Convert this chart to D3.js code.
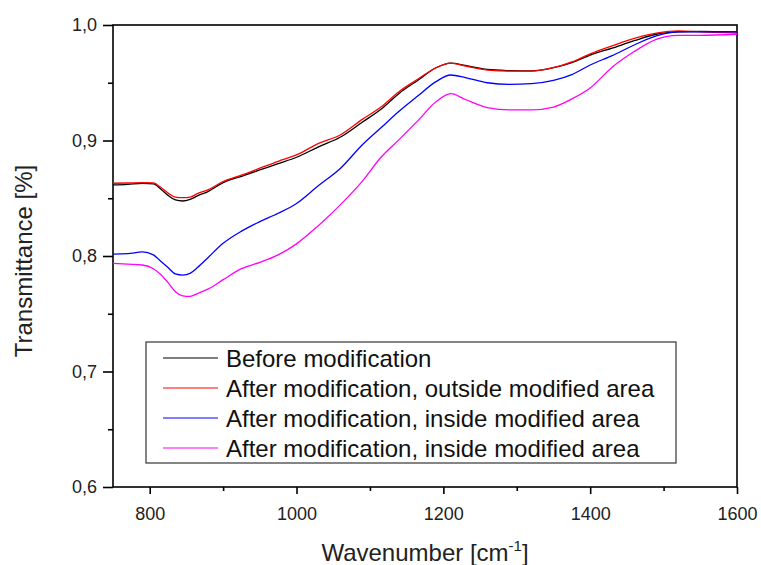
<!DOCTYPE html>
<html>
<meta charset="utf-8">
<script src="https://d3js.org/d3.v7.min.js"></script>
<style>
  body { margin: 0; background: #fff; }
  text { font-family: Arial, "Liberation Sans", sans-serif; }
</style>
<div id="chart_div"></div>
<script>

var wavenumber = [750, 770, 790, 805, 815, 825, 835, 845, 855, 865, 880, 900, 925, 950, 975,
  1000, 1030, 1060, 1090, 1115, 1140, 1165, 1190, 1210, 1230, 1260, 1290, 1320, 1350, 1375,
  1400, 1430, 1460, 1490, 1520, 1550, 1600];

var before = [0.8615, 0.862, 0.863, 0.8625, 0.858, 0.8525, 0.8485, 0.8476, 0.849, 0.852, 0.856,
  0.8635, 0.869, 0.8745, 0.880, 0.8855, 0.8945, 0.903, 0.916, 0.927, 0.941, 0.952, 0.963, 0.967,
  0.965, 0.9615, 0.9605, 0.9602, 0.963, 0.9675, 0.974, 0.980, 0.9864, 0.992, 0.994, 0.9945, 0.994];

var afterOutside = [0.863, 0.8632, 0.8635, 0.8632, 0.8595, 0.8545, 0.851, 0.8505, 0.851, 0.854,
  0.8575, 0.8645, 0.870, 0.876, 0.882, 0.8875, 0.8975, 0.905, 0.9185, 0.929, 0.9425, 0.953, 0.963,
  0.967, 0.9645, 0.961, 0.960, 0.960, 0.963, 0.968, 0.975, 0.982, 0.9885, 0.993, 0.995, 0.994, 0.993];

var afterInside1 = [0.8017, 0.802, 0.8035, 0.801, 0.7955, 0.790, 0.7845, 0.7835, 0.785, 0.790,
  0.799, 0.811, 0.8215, 0.8297, 0.837, 0.8455, 0.861, 0.876, 0.8965, 0.911, 0.9255, 0.9385, 0.951,
  0.9567, 0.9545, 0.950, 0.9486, 0.9492, 0.952, 0.957, 0.9654, 0.9735, 0.9827, 0.9905, 0.994, 0.994, 0.994];

var afterInside2 = [0.7937, 0.793, 0.7922, 0.789, 0.784, 0.777, 0.769, 0.7655, 0.765, 0.7675,
  0.7715, 0.7795, 0.789, 0.7945, 0.801, 0.8105, 0.8265, 0.8445, 0.865, 0.8855, 0.901, 0.917, 0.9335,
  0.9405, 0.9355, 0.9285, 0.9265, 0.9265, 0.929, 0.936, 0.9455, 0.9635, 0.977, 0.9875, 0.991, 0.991, 0.992];

var seriesNames = ["Before modification",
  "After modification, outside modified area",
  "After modification, inside modified area",
  "After modification, inside modified area"];
var seriesColors = ["#000000", "#ff0000", "#0000ff", "#ff00ff"];
var seriesValues = [before, afterOutside, afterInside1, afterInside2];

var xTicks = [800, 1000, 1200, 1400, 1600];
var xMinor = [900, 1100, 1300, 1500];
var yTicks = [0.6, 0.7, 0.8, 0.9, 1.0];
var yMinor = [0.65, 0.75, 0.85, 0.95];

var margin = {top: 25, right: 24, bottom: 78, left: 113},
  width = 737 - margin.left,
  height = 487 - margin.top;

var svg = d3.select("#chart_div")
.append("svg")
  .attr("width", 761)
  .attr("height", 565)
.append("g")
  .attr("transform", "translate(" + margin.left + "," + margin.top + ")");

var x = d3.scaleLinear().domain([750, 1600]).range([0, width]);
var y = d3.scaleLinear().domain([0.6, 1.0]).range([height, 0]);

// frame
svg.append("rect")
  .attr("width", width).attr("height", height)
  .attr("fill", "none").attr("stroke", "#000").attr("stroke-width", 1.6);

var fmt = function(d) { return d3.format(".1f")(d).replace(".", ","); };

// x axis
var gx = svg.append("g").attr("transform", "translate(0," + height + ")");
gx.call(d3.axisBottom(x).tickValues(xTicks).tickSize(7).tickPadding(13).tickFormat(d3.format("d")));
gx.append("g").call(d3.axisBottom(x).tickValues(xMinor).tickSize(4).tickFormat(""));

// y axis
var gy = svg.append("g");
gy.call(d3.axisLeft(y).tickValues(yTicks).tickSize(10).tickPadding(6).tickFormat(fmt));
gy.append("g").call(d3.axisLeft(y).tickValues(yMinor).tickSize(5).tickFormat(""));

svg.selectAll(".domain").remove();
svg.selectAll(".tick line").attr("stroke", "#000").attr("stroke-width", 1.6);
svg.selectAll(".tick text").attr("font-size", 18).attr("fill", "#222")
  .attr("font-family", "Arial, 'Liberation Sans', sans-serif");

// axis titles
var xt = svg.append("text")
  .attr("x", width / 2).attr("y", height + 74)
  .attr("text-anchor", "middle").attr("font-size", 24).attr("fill", "#222");
xt.append("tspan").text("Wavenumber [cm");
xt.append("tspan").attr("font-size", 15).attr("dy", -10).text("-1");
xt.append("tspan").attr("dy", 10).text("]");

svg.append("text")
  .attr("transform", "translate(-81," + (height / 2 + 5) + ") rotate(-90)")
  .attr("text-anchor", "middle").attr("font-size", 24).attr("fill", "#222")
  .text("Transmittance [%]");

// lines
var line = d3.line()
  .x(function(d) { return x(d[0]); })
  .y(function(d) { return y(d[1]); })
  .curve(d3.curveMonotoneX);

svg.append("defs").append("clipPath").attr("id", "clip")
  .append("rect").attr("width", width).attr("height", height);

seriesValues.forEach(function(vals, i) {
  svg.append("path")
    .datum(wavenumber.map(function(w, j) { return [w, vals[j]]; }))
    .attr("clip-path", "url(#clip)")
    .attr("fill", "none")
    .attr("stroke", seriesColors[i])
    .attr("stroke-width", 1.3)
    .attr("d", line);
});

// legend
var lg = svg.append("g").attr("transform", "translate(33,317)");
lg.append("rect")
  .attr("width", 530).attr("height", 121)
  .attr("fill", "#fff").attr("stroke", "#444").attr("stroke-width", 1.3);

seriesNames.forEach(function(name, i) {
  var yy = 16 + i * 30;
  lg.append("line")
    .attr("x1", 17).attr("x2", 72).attr("y1", yy).attr("y2", yy)
    .attr("stroke", seriesColors[i]).attr("stroke-width", 1.2);
  lg.append("text")
    .attr("x", 80).attr("y", yy + 8.5)
    .attr("font-size", 24).attr("fill", "#111")
    .text(name);
});

</script>
</html>
